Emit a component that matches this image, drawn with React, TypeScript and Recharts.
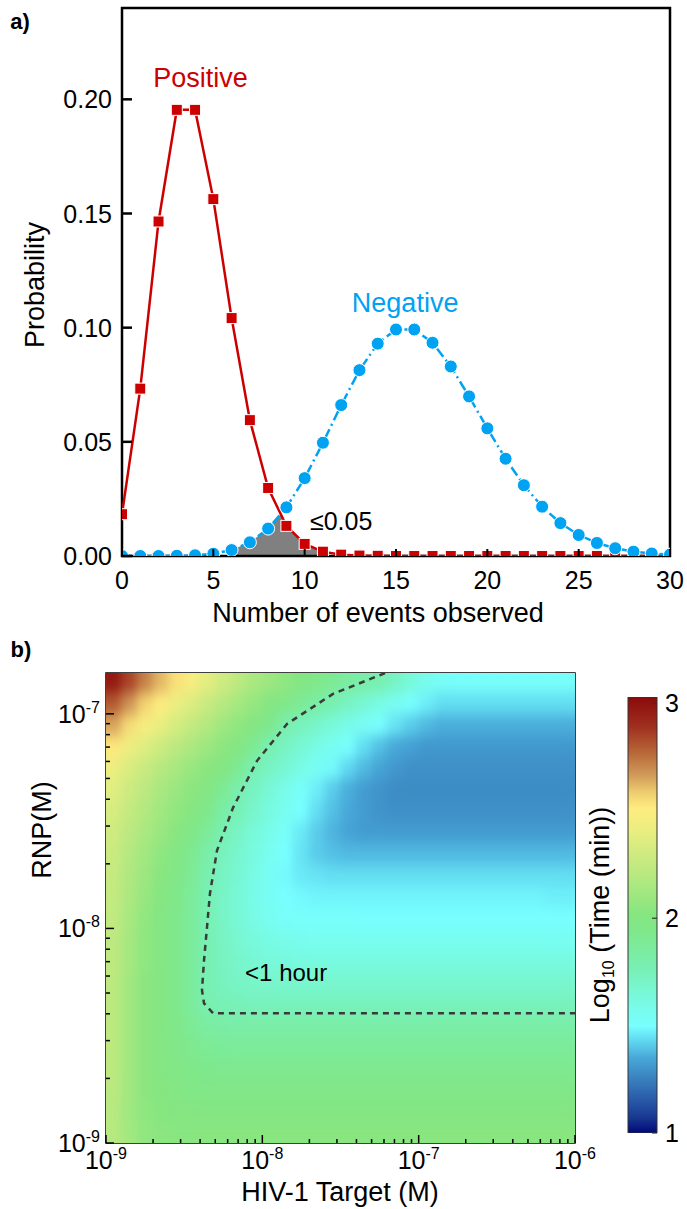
import React from 'react';
import {
  ComposedChart,
  ScatterChart,
  BarChart,
  Bar,
  Line,
  Area,
  Scatter,
  XAxis,
  YAxis,
  ReferenceArea,
  ReferenceDot,
} from 'recharts';

const FONT = '"Liberation Sans", Arial, Helvetica, sans-serif';

// ---------------- Panel a data ----------------
const eventCounts = [0, 1, 2, 3, 4, 5, 6, 7, 8, 9, 10, 11, 12, 13, 14, 15, 16, 17, 18, 19, 20, 21, 22, 23, 24, 25, 26, 27, 28, 29, 30];
const positiveProb = [0.0183, 0.0733, 0.1465, 0.1954, 0.1954, 0.1563, 0.1042, 0.0595, 0.0298, 0.0132, 0.0053, 0.0019, 0.0006, 0.0002, 0.0001, 0, 0, 0, 0, 0, 0, 0, 0, 0, 0, 0, 0, 0, 0, 0, 0];
const negativeProb = [0, 0, 0, 0.0001, 0.0003, 0.001, 0.0026, 0.006, 0.012, 0.0213, 0.0341, 0.0496, 0.0661, 0.0814, 0.093, 0.0992, 0.0992, 0.0934, 0.083, 0.0699, 0.0559, 0.0426, 0.031, 0.0216, 0.0144, 0.0092, 0.0057, 0.0034, 0.0019, 0.0011, 0.0006];
const overlapEvents = [6, 7, 8, 8.7, 9, 10, 11];
const overlapProb = [0.0026, 0.006, 0.012, 0.0184, 0.0132, 0.0053, 0.0019];
const probTicks = [0, 0.05, 0.1, 0.15, 0.2];
const eventTicks = [0, 5, 10, 15, 20, 25, 30];

// ---------------- Panel b data ----------------
const targetExp = [-8.95, -8.85, -8.75, -8.65, -8.55, -8.45, -8.35, -8.25, -8.15, -8.05, -7.95, -7.85, -7.75, -7.65, -7.55, -7.45, -7.35, -7.25, -7.15, -7.05, -6.95, -6.85, -6.75, -6.65, -6.55, -6.45, -6.35, -6.25, -6.15, -6.05];
const rnpExp = [-8.95, -8.85, -8.75, -8.65, -8.55, -8.45, -8.35, -8.25, -8.15, -8.05, -7.95, -7.85, -7.75, -7.65, -7.55, -7.45, -7.35, -7.25, -7.15, -7.05, -6.95, -6.85];

// log10(time, min); rows bottom (low RNP) to top (high RNP), columns low to high target
const timeGrid = [
  [2.20, 2.12, 2.06, 2.04, 2.03, 2.03, 2.03, 2.03, 2.03, 2.03, 2.03, 2.03, 2.03, 2.03, 2.03, 2.03, 2.03, 2.03, 2.03, 2.03, 2.03, 2.03, 2.03, 2.03, 2.03, 2.03, 2.03, 2.03, 2.03, 2.03],
  [2.20, 2.11, 2.05, 2.02, 2.01, 2.00, 2.00, 2.00, 2.00, 2.00, 2.00, 2.00, 2.00, 2.00, 2.00, 2.00, 2.00, 2.00, 2.00, 2.00, 2.00, 2.00, 2.00, 2.00, 2.00, 2.00, 2.00, 2.00, 2.00, 2.00],
  [2.21, 2.12, 2.04, 2.01, 1.99, 1.97, 1.96, 1.96, 1.96, 1.96, 1.96, 1.96, 1.96, 1.96, 1.96, 1.96, 1.96, 1.96, 1.96, 1.96, 1.96, 1.96, 1.96, 1.96, 1.96, 1.96, 1.96, 1.96, 1.96, 1.96],
  [2.22, 2.12, 2.04, 2.00, 1.97, 1.95, 1.93, 1.92, 1.92, 1.92, 1.92, 1.92, 1.92, 1.92, 1.92, 1.92, 1.92, 1.92, 1.92, 1.92, 1.92, 1.92, 1.92, 1.92, 1.92, 1.92, 1.92, 1.92, 1.92, 1.92],
  [2.22, 2.12, 2.04, 2.00, 1.96, 1.92, 1.89, 1.88, 1.87, 1.87, 1.87, 1.87, 1.87, 1.87, 1.87, 1.87, 1.87, 1.87, 1.87, 1.87, 1.87, 1.87, 1.87, 1.87, 1.87, 1.87, 1.87, 1.87, 1.87, 1.87],
  [2.22, 2.12, 2.04, 2.00, 1.95, 1.89, 1.84, 1.83, 1.82, 1.82, 1.82, 1.82, 1.82, 1.82, 1.82, 1.82, 1.82, 1.82, 1.82, 1.82, 1.82, 1.82, 1.82, 1.82, 1.82, 1.82, 1.82, 1.82, 1.82, 1.82],
  [2.22, 2.12, 2.04, 2.00, 1.94, 1.86, 1.79, 1.76, 1.75, 1.74, 1.74, 1.74, 1.74, 1.74, 1.74, 1.74, 1.74, 1.74, 1.74, 1.74, 1.74, 1.74, 1.74, 1.74, 1.74, 1.74, 1.74, 1.74, 1.74, 1.74],
  [2.22, 2.12, 2.04, 2.00, 1.94, 1.86, 1.78, 1.74, 1.71, 1.70, 1.69, 1.68, 1.68, 1.68, 1.68, 1.68, 1.68, 1.68, 1.68, 1.68, 1.68, 1.68, 1.68, 1.68, 1.68, 1.68, 1.68, 1.68, 1.68, 1.68],
  [2.23, 2.13, 2.05, 2.00, 1.94, 1.86, 1.78, 1.73, 1.69, 1.66, 1.64, 1.63, 1.62, 1.62, 1.62, 1.62, 1.62, 1.62, 1.62, 1.62, 1.62, 1.62, 1.62, 1.62, 1.62, 1.62, 1.62, 1.62, 1.62, 1.62],
  [2.23, 2.13, 2.05, 2.00, 1.94, 1.86, 1.78, 1.72, 1.67, 1.63, 1.60, 1.58, 1.57, 1.56, 1.56, 1.56, 1.56, 1.56, 1.56, 1.56, 1.56, 1.56, 1.56, 1.56, 1.56, 1.56, 1.56, 1.56, 1.55, 1.55],
  [2.24, 2.14, 2.06, 2.00, 1.94, 1.86, 1.78, 1.71, 1.65, 1.60, 1.55, 1.52, 1.51, 1.51, 1.51, 1.51, 1.50, 1.50, 1.50, 1.50, 1.50, 1.50, 1.50, 1.50, 1.50, 1.50, 1.50, 1.50, 1.50, 1.50],
  [2.25, 2.16, 2.08, 2.01, 1.95, 1.87, 1.78, 1.71, 1.65, 1.59, 1.54, 1.50, 1.49, 1.48, 1.48, 1.48, 1.48, 1.48, 1.48, 1.48, 1.48, 1.48, 1.48, 1.48, 1.48, 1.48, 1.48, 1.48, 1.47, 1.47],
  [2.26, 2.17, 2.10, 2.03, 1.97, 1.89, 1.79, 1.72, 1.66, 1.60, 1.54, 1.49, 1.46, 1.45, 1.44, 1.44, 1.44, 1.44, 1.44, 1.44, 1.44, 1.44, 1.44, 1.44, 1.44, 1.44, 1.44, 1.44, 1.44, 1.44],
  [2.28, 2.19, 2.12, 2.05, 1.99, 1.91, 1.81, 1.74, 1.68, 1.62, 1.56, 1.50, 1.45, 1.41, 1.39, 1.38, 1.38, 1.38, 1.38, 1.38, 1.38, 1.38, 1.38, 1.38, 1.38, 1.38, 1.38, 1.38, 1.38, 1.38],
  [2.30, 2.22, 2.15, 2.09, 2.03, 1.96, 1.88, 1.78, 1.71, 1.64, 1.58, 1.52, 1.46, 1.41, 1.37, 1.34, 1.32, 1.32, 1.32, 1.32, 1.32, 1.32, 1.32, 1.32, 1.32, 1.32, 1.32, 1.32, 1.32, 1.32],
  [2.33, 2.25, 2.18, 2.12, 2.06, 2.01, 1.94, 1.83, 1.76, 1.69, 1.62, 1.56, 1.50, 1.44, 1.39, 1.35, 1.32, 1.30, 1.29, 1.29, 1.29, 1.29, 1.29, 1.29, 1.29, 1.29, 1.29, 1.29, 1.29, 1.29],
  [2.37, 2.29, 2.22, 2.15, 2.09, 2.04, 2.00, 1.90, 1.79, 1.72, 1.65, 1.58, 1.52, 1.47, 1.41, 1.36, 1.32, 1.30, 1.28, 1.28, 1.28, 1.28, 1.28, 1.28, 1.28, 1.28, 1.28, 1.28, 1.28, 1.28],
  [2.42, 2.34, 2.27, 2.20, 2.14, 2.08, 2.03, 2.00, 1.90, 1.78, 1.72, 1.66, 1.60, 1.54, 1.49, 1.43, 1.38, 1.34, 1.31, 1.29, 1.29, 1.29, 1.29, 1.29, 1.29, 1.29, 1.29, 1.29, 1.29, 1.29],
  [2.52, 2.43, 2.36, 2.29, 2.22, 2.16, 2.10, 2.04, 2.00, 1.90, 1.78, 1.72, 1.66, 1.60, 1.55, 1.50, 1.44, 1.39, 1.35, 1.33, 1.31, 1.31, 1.31, 1.31, 1.31, 1.31, 1.31, 1.31, 1.31, 1.31],
  [2.65, 2.55, 2.47, 2.40, 2.32, 2.25, 2.18, 2.11, 2.05, 2.00, 1.93, 1.80, 1.74, 1.69, 1.64, 1.59, 1.54, 1.50, 1.45, 1.41, 1.38, 1.36, 1.36, 1.36, 1.36, 1.36, 1.36, 1.36, 1.36, 1.36],
  [2.80, 2.68, 2.57, 2.50, 2.42, 2.35, 2.27, 2.20, 2.13, 2.07, 2.00, 1.95, 1.89, 1.83, 1.78, 1.72, 1.66, 1.60, 1.55, 1.50, 1.47, 1.44, 1.44, 1.44, 1.44, 1.44, 1.44, 1.44, 1.44, 1.44],
  [2.98, 2.85, 2.72, 2.62, 2.54, 2.47, 2.38, 2.30, 2.22, 2.15, 2.10, 2.05, 2.00, 1.95, 1.90, 1.85, 1.82, 1.79, 1.72, 1.64, 1.57, 1.53, 1.52, 1.52, 1.52, 1.52, 1.52, 1.52, 1.52, 1.52],
];

// dashed "<1 hour" contour (log10 target, log10 RNP)
const contourTargetExp = [-7.215, -7.548, -7.842, -8.034, -8.187, -8.29, -8.335, -8.354, -8.373, -8.386, -8.373, -8.315, -6.0];
const contourRnpExp = [-6.81, -6.907, -7.047, -7.219, -7.437, -7.637, -7.837, -7.995, -8.149, -8.288, -8.349, -8.395, -8.395];

const targetTicks = [1e-9, 2e-9, 3e-9, 4e-9, 5e-9, 6e-9, 7e-9, 8e-9, 9e-9, 1e-8, 2e-8, 3e-8, 4e-8, 5e-8, 6e-8, 7e-8, 8e-8, 9e-8, 1e-7, 2e-7, 3e-7, 4e-7, 5e-7, 6e-7, 7e-7, 8e-7, 9e-7, 1e-6];
const rnpTicks = [1e-9, 2e-9, 3e-9, 4e-9, 5e-9, 6e-9, 7e-9, 8e-9, 9e-9, 1e-8, 2e-8, 3e-8, 4e-8, 5e-8, 6e-8, 7e-8, 8e-8, 9e-8, 1e-7];
const colorTicks = [1, 2, 3];
const colorbarRange = [{ name: 'scale', range: [1, 3.03] }];

const colorStopValues = [1.0, 1.07, 1.15, 1.26, 1.35, 1.43, 1.5, 1.62, 1.77, 1.93, 2.02, 2.14, 2.27, 2.4, 2.51, 2.58, 2.67, 2.77, 2.89, 3.03];
const colorStopColors = ['#00087a', '#183890', '#2858a8', '#3a84c0', '#48a8d8', '#60d8f0', '#78ffff', '#78fae0', '#78f0b4', '#7ee88c', '#86e680', '#a8e880', '#c8ea80', '#e8ee80', '#ffec80', '#f0d070', '#d09858', '#b86838', '#a03020', '#8b0a0a'];

// ---------------- helpers ----------------
function hexRgb(c: string) {
  return [parseInt(c.slice(1, 3), 16), parseInt(c.slice(3, 5), 16), parseInt(c.slice(5, 7), 16)];
}
function valueColor(v: number): string {
  const n = colorStopValues.length;
  if (v <= colorStopValues[0]) return colorStopColors[0];
  for (let i = 1; i < n; i++) {
    if (v <= colorStopValues[i]) {
      const t = (v - colorStopValues[i - 1]) / (colorStopValues[i] - colorStopValues[i - 1]);
      const a = hexRgb(colorStopColors[i - 1]);
      const b = hexRgb(colorStopColors[i]);
      const m = a.map((ai, k) => Math.round(ai + (b[k] - ai) * t));
      return `rgb(${m[0]},${m[1]},${m[2]})`;
    }
  }
  return colorStopColors[n - 1];
}

const posData = eventCounts.map((k, i) => ({ k, p: positiveProb[i] }));
const negData = eventCounts.map((k, i) => ({ k, p: negativeProb[i] }));
const overlapData = overlapEvents.map((k, i) => ({ k, v: overlapProb[i] }));

const heatCells: { x: number; y: number; v: number }[] = [];
rnpExp.forEach((ey, j) => {
  targetExp.forEach((ex, i) => {
    heatCells.push({ x: Math.pow(10, ex), y: Math.pow(10, ey), v: timeGrid[j][i] });
  });
});
const contourData = contourTargetExp.map((ex, i) => ({ x: Math.pow(10, ex), y: Math.pow(10, contourRnpExp[i]) }));

// gradient stops listed top (high value) to bottom (low value), offsets increasing
const cbarStops = colorStopValues
  .map((v, i) => ({ offset: (3.03 - v) / (3.03 - 1), color: colorStopColors[i] }))
  .reverse();

const RNP_MAX = 1.55e-7;
const CELL_W = 469 / 30;
const CELL_H = 21.5;
const TICK_FS = 25;

// ---------------- ticks ----------------
const EventTick = (p: any) => {
  const { x, y, payload } = p;
  return (
    <g>
      <line x1={x} y1={y} x2={x} y2={y - 7} stroke="#000" strokeWidth={2} />
      <text x={x} y={y + 33} textAnchor="middle" fontSize={TICK_FS} fontFamily={FONT} fill="#000">
        {payload.value}
      </text>
    </g>
  );
};

const ProbTick = (p: any) => {
  const { x, y, payload } = p;
  return (
    <g>
      <line x1={x} y1={y} x2={x + 10} y2={y} stroke="#000" strokeWidth={2.5} />
      <text x={x - 10} y={y + 9} textAnchor="end" fontSize={TICK_FS} fontFamily={FONT} fill="#000">
        {Number(payload.value).toFixed(2)}
      </text>
    </g>
  );
};

function isMajor(v: number) {
  const l = Math.log10(v);
  return Math.abs(l - Math.round(l)) < 1e-6;
}

const LogTickX = (p: any) => {
  const { x, y, payload } = p;
  const v = payload.value;
  const major = isMajor(v);
  const e = Math.round(Math.log10(v));
  return (
    <g>
      <line x1={x} y1={y} x2={x} y2={y - (major ? 8 : 4)} stroke="#000" strokeWidth={1.5} />
      {major && (
        <text x={x} y={y + 26} textAnchor="middle" fontSize={TICK_FS} fontFamily={FONT} fill="#000">
          10<tspan dy={-10} fontSize={16}>{String(e)}</tspan>
        </text>
      )}
    </g>
  );
};

const LogTickY = (p: any) => {
  const { x, y, payload } = p;
  const v = payload.value;
  const major = isMajor(v);
  const e = Math.round(Math.log10(v));
  return (
    <g>
      <line x1={x} y1={y} x2={x + (major ? 8 : 4)} y2={y} stroke="#000" strokeWidth={1.5} />
      {major && (
        <text x={x - 6} y={y + 9} textAnchor="end" fontSize={TICK_FS} fontFamily={FONT} fill="#000">
          10<tspan dy={-10} fontSize={16}>{String(e)}</tspan>
        </text>
      )}
    </g>
  );
};

const ColorTick = (p: any) => {
  const { x, y, payload } = p;
  return (
    <g>
      <line x1={x} y1={y} x2={x - 5} y2={y} stroke="#333" strokeWidth={1.2} />
      <text x={x + 8} y={y + 9} textAnchor="start" fontSize={TICK_FS} fontFamily={FONT} fill="#000">
        {payload.value}
      </text>
    </g>
  );
};

const RedSquare = (p: any) => {
  const { cx, cy, index } = p;
  if (cx == null || cy == null) return <g key={`rs${index}`} />;
  return <rect key={`rs${index}`} x={cx - 5.5} y={cy - 5.5} width={11} height={11} fill="#cc0000" stroke="#fff" strokeWidth={1} />;
};
const BlueCircle = (p: any) => {
  const { cx, cy, index } = p;
  if (cx == null || cy == null) return <g key={`bc${index}`} />;
  return <circle key={`bc${index}`} cx={cx} cy={cy} r={6.5} fill="#00a2f2" stroke="#fff" strokeWidth={1} />;
};

const HeatCell = (p: any) => {
  const { cx, cy, payload } = p;
  if (cx == null || cy == null) return <g />;
  return (
    <rect
      x={cx - CELL_W / 2 - 0.5}
      y={cy - CELL_H / 2 - 0.5}
      width={CELL_W + 1}
      height={CELL_H + 1}
      fill={valueColor(payload.v)}
      stroke="none"
    />
  );
};

const NoShape = () => <g />;

const Title = ({ x, y, rotate, size, bold, children }: any) => (
  <div
    style={{
      position: 'absolute',
      left: x,
      top: y,
      transform: `translate(-50%, -50%)${rotate ? ' rotate(-90deg)' : ''}`,
      whiteSpace: 'nowrap',
      fontFamily: FONT,
      fontSize: size || 27,
      fontWeight: bold ? 'bold' : 'normal',
      color: '#000',
      lineHeight: 1,
    }}
  >
    {children}
  </div>
);

export default function App() {
  return (
    <div style={{ position: 'absolute', left: 0, top: 0, width: 687, height: 1209, background: '#fff', overflow: 'hidden' }}>
      <style>{'.heat-cells{filter:url(#heatBlur);}'}</style>
      <svg width={0} height={0} style={{ position: 'absolute' }}>
        <defs>
          <filter id="heatBlur" filterUnits="userSpaceOnUse" x={106} y={33} width={469} height={470} colorInterpolationFilters="sRGB">
            <feGaussianBlur stdDeviation="5 7" />
            <feComponentTransfer>
              <feFuncA type="linear" slope={30} intercept={0} />
            </feComponentTransfer>
          </filter>
          <linearGradient id="cbarGrad" x1="0" y1="0" x2="0" y2="1">
            {cbarStops.map((s, i) => (
              <stop key={i} offset={s.offset} stopColor={s.color} />
            ))}
          </linearGradient>
        </defs>
      </svg>

      {/* Panel a */}
      <div style={{ position: 'absolute', left: 0, top: 0 }}>
        <ComposedChart width={687} height={640} margin={{ top: 8, right: 17, bottom: 0, left: 0 }}>
          <Area data={overlapData} dataKey="v" type="linear" stroke="none" fill="#808080" fillOpacity={1} isAnimationActive={false} />
          <Line data={posData} dataKey="p" type="linear" stroke="#cc0000" strokeWidth={2.5} dot={RedSquare} activeDot={false} isAnimationActive={false} />
          <Line data={negData} dataKey="p" type="linear" stroke="#00a2f2" strokeWidth={2.5} strokeDasharray="10 4 2 4" dot={BlueCircle} activeDot={false} isAnimationActive={false} />
          <ReferenceArea x1={0} x2={30} y1={0} y2={0.24} fill="none" stroke="#000" strokeWidth={2.5} ifOverflow="visible" />
          <ReferenceDot x={4.3} y={0.2097} r={0} fill="none" stroke="none" label={{ value: 'Positive', position: 'center', fill: '#cc0000', fontSize: 27, fontFamily: FONT }} />
          <ReferenceDot x={15.5} y={0.1112} r={0} fill="none" stroke="none" label={{ value: 'Negative', position: 'center', fill: '#00a2f2', fontSize: 27, fontFamily: FONT }} />
          <ReferenceDot x={12} y={0.0153} r={0} fill="none" stroke="none" label={{ value: '≤0.05', position: 'center', fill: '#000', fontSize: 25, fontFamily: FONT }} />
          <XAxis type="number" dataKey="k" domain={[0, 30]} ticks={eventTicks} interval={0} axisLine={false} tickLine={false} tickSize={0} tickMargin={0} height={84} tick={(p: any) => <EventTick {...p} />} allowDataOverflow />
          <YAxis type="number" domain={[0, 0.24]} ticks={probTicks} interval={0} axisLine={false} tickLine={false} tickSize={0} tickMargin={0} width={122} tick={(p: any) => <ProbTick {...p} />} allowDataOverflow />
        </ComposedChart>
      </div>

      {/* Panel b heatmap */}
      <div style={{ position: 'absolute', left: 0, top: 640 }}>
        <ScatterChart width={687} height={569} margin={{ top: 33, right: 112, bottom: 0, left: 0 }}>
          <Scatter className="heat-cells" data={heatCells} shape={HeatCell} isAnimationActive={false} />
          <Scatter data={contourData} line={{ stroke: '#3a3a3a', strokeWidth: 2.5, strokeDasharray: '6 5' }} lineType="joint" shape={NoShape} isAnimationActive={false} />
          <ReferenceArea x1={1e-9} x2={1e-6} y1={1e-9} y2={RNP_MAX} fill="none" stroke="#000" strokeWidth={1.5} ifOverflow="visible" />
          <ReferenceDot x={1.42e-8} y={6.24e-9} r={0} fill="none" stroke="none" label={{ value: '<1 hour', position: 'center', fill: '#000', fontSize: 24, fontFamily: FONT }} />
          <XAxis type="number" dataKey="x" scale="log" domain={[1e-9, 1e-6]} ticks={targetTicks} interval={0} axisLine={false} tickLine={false} tickSize={0} tickMargin={0} height={66} tick={(p: any) => <LogTickX {...p} />} allowDataOverflow />
          <YAxis type="number" dataKey="y" scale="log" domain={[1e-9, RNP_MAX]} ticks={rnpTicks} interval={0} axisLine={false} tickLine={false} tickSize={0} tickMargin={0} width={106} tick={(p: any) => <LogTickY {...p} />} allowDataOverflow />
        </ScatterChart>
      </div>

      {/* Colorbar */}
      <div style={{ position: 'absolute', left: 600, top: 690 }}>
        <BarChart width={87} height={460} data={colorbarRange} margin={{ top: 7, right: 0, bottom: 17, left: 28 }} barCategoryGap={0} barGap={0}>
          <Bar dataKey="range" fill="url(#cbarGrad)" stroke="#333" strokeWidth={1} isAnimationActive={false} />
          <XAxis dataKey="name" hide />
          <YAxis type="number" orientation="right" domain={[1, 3.03]} ticks={colorTicks} interval={0} axisLine={false} tickLine={false} tickSize={0} tickMargin={0} width={30} tick={(p: any) => <ColorTick {...p} />} allowDataOverflow />
        </BarChart>
      </div>

      {/* Titles */}
      <Title x={20} y={22} size={22} bold>a)</Title>
      <Title x={21} y={650} size={22} bold>b)</Title>
      <Title x={35} y={285} rotate>Probability</Title>
      <Title x={378} y={613}>Number of events observed</Title>
      <Title x={42} y={830} rotate>RNP(M)</Title>
      <Title x={340} y={1192}>HIV-1 Target (M)</Title>
      <Title x={600} y={915} rotate>
        Log<sub style={{ fontSize: 16, verticalAlign: 'baseline', position: 'relative', top: 5 }}>10</sub> (Time (min))
      </Title>
    </div>
  );
}
